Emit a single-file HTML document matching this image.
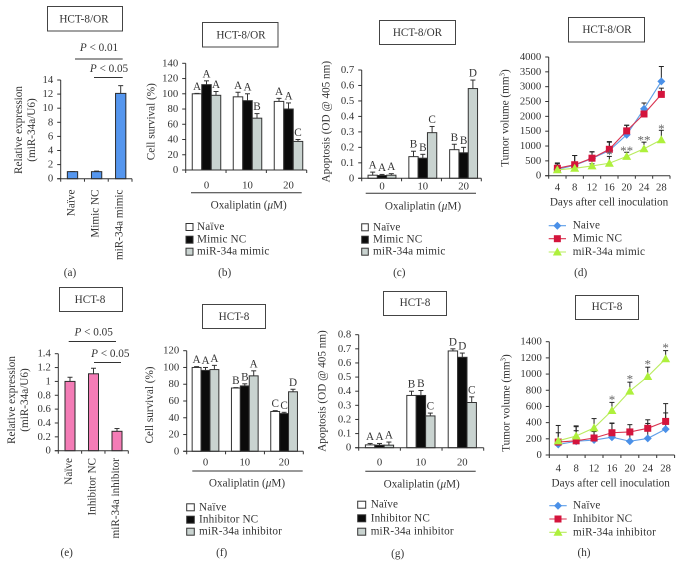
<!DOCTYPE html>
<html lang="en">
<head>
<meta charset="utf-8">
<title>miR-34a oxaliplatin figure</title>
<style>
html,body{margin:0;padding:0;background:#fff;width:682px;height:576px;overflow:hidden}
#figure{display:block;filter:blur(0.35px)}
#figure text{font-family:"Liberation Serif","DejaVu Serif",serif;font-size:11.2px;fill:#333}
#figure .box{fill:#fff;stroke:#444;stroke-width:1}
#figure .rule{stroke:#333;stroke-width:1}
#figure text.hd{font-size:11.2px}
#figure text.tk{font-size:10.7px}
#figure text.st{font-size:13px;fill:#666}
</style>
</head>
<body>
<svg id="figure" xmlns="http://www.w3.org/2000/svg" width="682" height="576" viewBox="0 0 682 576">
  <g text-anchor="middle" dominant-baseline="central">
    <rect class="box" x="47.5" y="6.5" width="75" height="24.5"/>
    <text class="hd" x="84" y="19.5" dominant-baseline="central">HCT-8/OR</text>
    <rect class="box" x="202.5" y="22.5" width="75.5" height="24.5"/>
    <text class="hd" x="241" y="35.5" dominant-baseline="central">HCT-8/OR</text>
    <rect class="box" x="379.5" y="20.5" width="76" height="24"/>
    <text class="hd" x="417.5" y="33" dominant-baseline="central">HCT-8/OR</text>
    <rect class="box" x="568.5" y="17.5" width="76" height="24.5"/>
    <text class="hd" x="607" y="30" dominant-baseline="central">HCT-8/OR</text>
    <rect class="box" x="59.5" y="287.5" width="63" height="24"/>
    <text class="hd" x="90" y="300" dominant-baseline="central">HCT-8</text>
    <rect class="box" x="202.5" y="304.5" width="63" height="24"/>
    <text class="hd" x="234" y="317" dominant-baseline="central">HCT-8</text>
    <rect class="box" x="383.5" y="291.5" width="63" height="24"/>
    <text class="hd" x="415" y="303" dominant-baseline="central">HCT-8</text>
    <rect class="box" x="575.5" y="295.5" width="63" height="24"/>
    <text class="hd" x="607" y="307" dominant-baseline="central">HCT-8</text>
  </g>
  <g text-anchor="middle">
    <text x="70" y="273" dominant-baseline="central">(a)</text>
    <text x="224.7" y="273" dominant-baseline="central">(b)</text>
    <text x="399.3" y="273" dominant-baseline="central">(c)</text>
    <text x="580.7" y="273" dominant-baseline="central">(d)</text>
    <text x="66.7" y="553" dominant-baseline="central">(e)</text>
    <text x="221.7" y="553" dominant-baseline="central">(f)</text>
    <text x="397.7" y="554" dominant-baseline="central">(g)</text>
    <text x="584" y="553" dominant-baseline="central">(h)</text>
  </g>
  <g text-anchor="middle">
    <text x="99" y="48" dominant-baseline="central"><tspan font-style="italic">P</tspan> &lt; 0.01</text>
    <line class="rule" x1="75" y1="59" x2="122.7" y2="59"/>
    <text x="109" y="69" dominant-baseline="central"><tspan font-style="italic">P</tspan> &lt; 0.05</text>
    <line class="rule" x1="94" y1="77.5" x2="122.7" y2="77.5"/>
  </g>
  <g text-anchor="middle">
    <text x="93.7" y="332.3" dominant-baseline="central"><tspan font-style="italic">P</tspan> &lt; 0.05</text>
    <line class="rule" x1="68.7" y1="341.5" x2="116" y2="341.5"/>
    <text x="110.3" y="354" dominant-baseline="central"><tspan font-style="italic">P</tspan> &lt; 0.05</text>
    <line class="rule" x1="94" y1="362.5" x2="121" y2="362.5"/>
  </g>
  <g text-anchor="middle">
    <text transform="translate(19,130) rotate(-90)" dominant-baseline="central">Relative expression</text>
    <text transform="translate(32,130) rotate(-90)" dominant-baseline="central">(miR-34a/U6)</text>
    <text transform="translate(151.7,121.7) rotate(-90)" dominant-baseline="central">Cell survival (%)</text>
    <text transform="translate(326.7,121.7) rotate(-90)" dominant-baseline="central">Apoptosis (OD @ 405 nm)</text>
    <text transform="translate(505.7,118) rotate(-90)" dominant-baseline="central">Tumor volume (mm<tspan font-size="7" dy="-3">3</tspan><tspan dy="3">)</tspan></text>
    <text transform="translate(12,400) rotate(-90)" dominant-baseline="central">Relative expression</text>
    <text transform="translate(25,400) rotate(-90)" dominant-baseline="central">(miR-34a/U6)</text>
    <text transform="translate(150,405) rotate(-90)" dominant-baseline="central">Cell survival (%)</text>
    <text transform="translate(322.7,391) rotate(-90)" dominant-baseline="central">Apoptosis (OD @ 405 nm)</text>
    <text transform="translate(506.7,403) rotate(-90)" dominant-baseline="central">Tumor volume (mm<tspan font-size="7" dy="-3">3</tspan><tspan dy="3">)</tspan></text>
  </g>
  <g text-anchor="middle">
    <line class="rule" x1="191" y1="192.7" x2="301.7" y2="192.7" stroke="#555"/>
    <text x="248.7" y="205.7" dominant-baseline="central">Oxaliplatin (<tspan font-style="italic">μ</tspan>M)</text>
    <line class="rule" x1="365.7" y1="193.3" x2="476" y2="193.3"/>
    <text x="423" y="206.7" dominant-baseline="central">Oxaliplatin (<tspan font-style="italic">μ</tspan>M)</text>
    <text x="609" y="202.7" dominant-baseline="central">Days after cell inoculation</text>
    <line class="rule" x1="192.3" y1="471" x2="302.7" y2="471"/>
    <text x="247" y="483.7" dominant-baseline="central">Oxaliplatin (<tspan font-style="italic">μ</tspan>M)</text>
    <line class="rule" x1="365.3" y1="471.3" x2="475.7" y2="471.3"/>
    <text x="421.7" y="484.3" dominant-baseline="central">Oxaliplatin (<tspan font-style="italic">μ</tspan>M)</text>
    <text x="610.7" y="483.3" dominant-baseline="central">Days after cell inoculation</text>
  </g>
</svg>
<script>
// ---------- Panel a ----------
const aCategories = ['Naïve', 'Mimic NC', 'miR-34a mimic'];
const aValues = [1, 1, 12.1];
const aErrors = [0, 0.08, 1.1];
const aTicks = [0, 2, 4, 6, 8, 10, 12, 14];
// ---------- Panel e ----------
const eCategories = ['Naïve', 'Inhibitor NC', 'miR-34a inhibitor'];
const eValues = [1, 1.11, 0.28];
const eErrors = [0.06, 0.08, 0.04];
const eTicks = [0, 0.2, 0.4, 0.6, 0.8, 1, 1.2, 1.4];
// ---------- Panel b ----------
const doses = ['0', '10', '20'];
const bNames = ['Naïve', 'Mimic NC', 'miR-34a mimic'];
const bNaive = [100, 96, 90];
const bNC = [112, 91, 80];
const bTreated = [98, 68, 37.5];
const bNaiveErr = [0.5, 6, 4];
const bNCErr = [5, 9, 8];
const bTreatedErr = [5, 6, 2.5];
const bNaiveLetters = ['A', 'A', 'A'];
const bNCLetters = ['A', 'A', 'A'];
const bTreatedLetters = ['A', 'B', 'C'];
const bTicks = [0, 20, 40, 60, 80, 100, 120, 140];
// ---------- Panel c ----------
const cNaive = [0.02, 0.14, 0.185];
const cNC = [0.018, 0.13, 0.165];
const cTreated = [0.02, 0.295, 0.58];
const cNaiveErr = [0.02, 0.035, 0.035];
const cNCErr = [0.007, 0.025, 0.035];
const cTreatedErr = [0.01, 0.04, 0.055];
const cNaiveLetters = ['A', 'B', 'B'];
const cNCLetters = ['A', 'B', 'B'];
const cTreatedLetters = ['A', 'C', 'D'];
const cTicks = [0, 0.1, 0.2, 0.3, 0.4, 0.5, 0.6, 0.7];
// ---------- Panel f ----------
const fNames = ['Naïve', 'Inhibitor NC', 'miR-34a inhibitor'];
const fNaive = [100, 75.5, 47.5];
const fNC = [96.5, 78, 45];
const fTreated = [97.5, 90, 71];
const fNaiveErr = [1, 0.5, 1];
const fNCErr = [3.5, 2.5, 1.5];
const fTreatedErr = [5, 6, 3];
const fNaiveLetters = ['A', 'B', 'C'];
const fNCLetters = ['A', 'B', 'C'];
const fTreatedLetters = ['A', 'A', 'D'];
const fTicks = [0, 20, 40, 60, 80, 100, 120];
// ---------- Panel g ----------
const gNaive = [0.02, 0.37, 0.685];
const gNC = [0.018, 0.37, 0.64];
const gTreated = [0.018, 0.225, 0.32];
const gNaiveErr = [0.01, 0.03, 0.015];
const gNCErr = [0.012, 0.035, 0.03];
const gTreatedErr = [0.022, 0.02, 0.04];
const gNaiveLetters = ['A', 'B', 'D'];
const gNCLetters = ['A', 'B', 'D'];
const gTreatedLetters = ['A', 'C', 'C'];
const gTicks = [0, 0.1, 0.2, 0.3, 0.4, 0.5, 0.6, 0.7, 0.8];
// ---------- Panel d ----------
const days = [4, 8, 12, 16, 20, 24, 28];
const dNaive = [220, 350, 580, 850, 1380, 2250, 3180];
const dNC = [250, 370, 590, 890, 1510, 2080, 2740];
const dTreated = [200, 250, 330, 420, 650, 910, 1210];
const dNaiveErr = [210, 330, 220, 280, 320, 200, 500];
const dNCErr = [150, 310, 220, 260, 190, 120, 210];
const dTreatedErr = [80, 70, 70, 230, 140, 220, 320];
const dStars = ['', '', '', '*', '**', '**', '*'];
const dTicks = [0, 500, 1000, 1500, 2000, 2500, 3000, 3500, 4000];
const dNames = ['Naive', 'Mimic NC', 'miR-34a mimic'];
// ---------- Panel h ----------
const hNaive = [130, 170, 185, 220, 170, 205, 320];
const hNC = [160, 175, 210, 275, 285, 330, 415];
const hTreated = [175, 235, 335, 550, 790, 970, 1190];
const hNaiveErr = [145, 180, 105, 170, 120, 185, 200];
const hNCErr = [205, 125, 80, 120, 90, 105, 220];
const hTreatedErr = [15, 125, 115, 100, 110, 115, 100];
const hStars = ['', '', '', '*', '*', '*', '*'];
const hTicks = [0, 200, 400, 600, 800, 1000, 1200, 1400];
const hNames = ['Naïve', 'Inhibitor NC', 'miR-34a inhibitor'];

const SVGNS = 'http://www.w3.org/2000/svg';
const root = document.getElementById('figure');

function mk(tag, attrs, parent, txt) {
  const n = document.createElementNS(SVGNS, tag);
  for (const k in attrs) n.setAttribute(k, attrs[k]);
  if (txt !== undefined) n.textContent = txt;
  parent.appendChild(n);
  return n;
}
function yScale(ax, v) {
  const lo = ax.ticks[0], hi = ax.ticks[ax.ticks.length - 1];
  return ax.y0 - (v - lo) / (hi - lo) * (ax.y0 - ax.yTop);
}
function drawYAxis(parent, ax) {
  const spine = mk('line', {x1: ax.x, x2: ax.x, y1: ax.yTop, y2: ax.y0, stroke: '#333', 'stroke-width': 1}, parent);
  
  
  ax.ticks.forEach(function (t) {
    const y = yScale(ax, t);
    const tick = mk('line', {x1: ax.x - 3.5, x2: ax.x, y1: y, y2: y, stroke: '#333', 'stroke-width': 1}, parent);
    
    
    const label = mk('text', {class: 'tk', x: ax.x - 7.5, y: y, 'text-anchor': 'end', 'dominant-baseline': 'central'}, parent, String(t));
    
    
  });
}
function drawXAxis(parent, ax, bands) {
  const spine = mk('line', {x1: ax.x - 3.5, x2: ax.right, y1: ax.y0, y2: ax.y0, stroke: '#333', 'stroke-width': 1}, parent);
  
  
  const step = (ax.right - ax.x) / bands;
  for (let i = 0; i <= bands; i++) {
    const x = ax.x + i * step;
    const tick = mk('line', {x1: x, x2: x, y1: ax.y0, y2: ax.y0 + 3, stroke: '#333', 'stroke-width': 1}, parent);
    
    
  }
}
function drawError(parent, x, yBase, yTop, color) {
  const stem = mk('line', {x1: x, x2: x, y1: yBase, y2: yTop, stroke: color, 'stroke-width': 1}, parent);
  
  
  const cap = mk('line', {x1: x - 2.5, x2: x + 2.5, y1: yTop, y2: yTop, stroke: color, 'stroke-width': 1}, parent);
  
  
}
function singleBarChart(name, ax, fill, categories, values, errors) {
  const g = mk('g', {}, root);
  
  
  values.forEach(function (v, i) {
    const cx = ax.c0 + i * ax.cStep;
    const top = yScale(ax, v);
    drawError(g, cx, top, yScale(ax, v + errors[i]), '#333');
    const bar = mk('rect', {x: cx - ax.barW / 2, y: top, width: ax.barW, height: ax.y0 - top, fill: fill, stroke: '#2b2b2b', 'stroke-width': 1}, g);
    
    
    const label = mk('text', {transform: 'translate(' + (cx - 1) + ',' + ax.catTop + ') rotate(-90)', 'text-anchor': 'end', 'dominant-baseline': 'central'}, g, categories[i]);
    
    
  });
  drawYAxis(g, ax);
  drawXAxis(g, ax, values.length);
}
const barFills = ['#ffffff', '#0b0b0b', '#c9d3d0'];
function groupedBarChart(name, ax, groups, seriesList, errList, letterList) {
  const g = mk('g', {}, root);
  
  
  seriesList.forEach(function (series, s) {
    series.forEach(function (v, i) {
      const cx = ax.c0 + i * ax.cStep + (s - 1) * ax.barW;
      const top = yScale(ax, v);
      const errTop = yScale(ax, v + errList[s][i]);
      drawError(g, cx, top, errTop, '#333');
      const bar = mk('rect', {x: cx - ax.barW / 2, y: top, width: ax.barW, height: ax.y0 - top, fill: barFills[s], stroke: '#333', 'stroke-width': 1}, g);
      
      
      const letter = mk('text', {x: cx, y: errTop - 6.5, 'text-anchor': 'middle', 'dominant-baseline': 'central'}, g, letterList[s][i]);
      
      
    });
  });
  drawYAxis(g, ax);
  drawXAxis(g, ax, groups.length);
  groups.forEach(function (d, i) {
    const label = mk('text', {class: 'tk', x: ax.c0 + i * ax.cStep, y: ax.labelY, 'text-anchor': 'middle', 'dominant-baseline': 'central'}, g, d);
    
    
  });
}
function barLegend(name, x, ys, textX, names, boxW) {
  const g = mk('g', {}, root);
  
  
  names.forEach(function (label, i) {
    const swatch = mk('rect', {x: x, y: ys[i] - 3.5, width: boxW, height: 7, fill: barFills[i], stroke: '#333', 'stroke-width': 1}, g);
    
    
    const t = mk('text', {x: textX, y: ys[i], 'dominant-baseline': 'central', 'letter-spacing': '0.15'}, g, label);
    
    
  });
}
const lineColors = ['#5f9fe8', '#d9324f', '#b9ec5e'];
const markerColors = ['#4a90e8', '#d4143c', '#aef03c'];
function drawMarker(parent, kind, x, y) {
  let m;
  if (kind === 0) {
    m = mk('polygon', {points: [x, y - 4, x + 4, y, x, y + 4, x - 4, y].join(' '), fill: markerColors[0]}, parent);
    
  } else if (kind === 1) {
    m = mk('rect', {x: x - 3.5, y: y - 3.5, width: 7, height: 7, fill: markerColors[1]}, parent);
    
  } else {
    m = mk('polygon', {points: [x, y - 4.5, x + 4.5, y + 3.5, x - 4.5, y + 3.5].join(' '), fill: markerColors[2]}, parent);
    
  }
  
}
function lineChart(name, ax, cats, seriesList, errList, stars, starOffset) {
  const g = mk('g', {}, root);
  
  
  const step = (ax.right - ax.x) / cats.length;
  const xAt = function (i) { return ax.x + step * (i + 0.5); };
  drawYAxis(g, ax);
  drawXAxis(g, ax, cats.length);
  cats.forEach(function (d, i) {
    const label = mk('text', {class: 'tk', x: xAt(i), y: ax.labelY, 'text-anchor': 'middle', 'dominant-baseline': 'central'}, g, String(d));
    
    
  });
  seriesList.forEach(function (series, s) {
    series.forEach(function (v, i) {
      drawError(g, xAt(i), yScale(ax, v), yScale(ax, v + errList[s][i]), '#222');
    });
  });
  seriesList.forEach(function (series, s) {
    const pts = series.map(function (v, i) { return xAt(i) + ',' + yScale(ax, v); }).join(' ');
    const line = mk('polyline', {points: pts, fill: 'none', stroke: lineColors[s], 'stroke-width': 1.1}, g);
    
    
    series.forEach(function (v, i) { drawMarker(g, s, xAt(i), yScale(ax, v)); });
  });
  const tr = seriesList[2], trErr = errList[2];
  stars.forEach(function (st, i) {
    if (!st) return;
    const t = mk('text', {class: 'st', x: xAt(i), y: yScale(ax, tr[i] + trErr[i]) + starOffset, 'text-anchor': 'middle'}, g, st);
    
    
  });
}
function lineLegend(name, x1, x2, ys, textX, names) {
  const g = mk('g', {}, root);
  
  
  names.forEach(function (label, i) {
    const l = mk('line', {x1: x1, x2: x2, y1: ys[i], y2: ys[i], stroke: lineColors[i], 'stroke-width': 1.1}, g);
    
    
    drawMarker(g, i, (x1 + x2) / 2, ys[i]);
    const t = mk('text', {x: textX, y: ys[i], 'dominant-baseline': 'central', 'letter-spacing': '0.15'}, g, label);
    
    
  });
}

singleBarChart('chart-a', {x: 60.7, right: 132, y0: 178.7, yTop: 80, ticks: aTicks, c0: 72.5, cStep: 24.1, barW: 10.3, catTop: 189.5}, '#5596ee', aCategories, aValues, aErrors);
singleBarChart('chart-e', {x: 58.3, right: 128.3, y0: 450.7, yTop: 353.7, ticks: eTicks, c0: 70, cStep: 23.5, barW: 10, catTop: 458}, '#f47cb6', eCategories, eValues, eErrors);

groupedBarChart('chart-b', {x: 185.7, right: 306.7, y0: 170, yTop: 63.3, ticks: bTicks, c0: 206.5, cStep: 41, barW: 9.5, labelY: 185.7}, doses, [bNaive, bNC, bTreated], [bNaiveErr, bNCErr, bTreatedErr], [bNaiveLetters, bNCLetters, bTreatedLetters]);
barLegend('legend-b', 186, [227, 239.7, 251.7], 197, bNames, 7);

groupedBarChart('chart-c', {x: 361.7, right: 481.3, y0: 178.3, yTop: 70, ticks: cTicks, c0: 382, cStep: 40.8, barW: 9.3, labelY: 186.7}, doses, [cNaive, cNC, cTreated], [cNaiveErr, cNCErr, cTreatedErr], [cNaiveLetters, cNCLetters, cTreatedLetters]);
barLegend('legend-c', 361.7, [227.3, 239.7, 251.7], 373, bNames, 6.6);

groupedBarChart('chart-f', {x: 186.7, right: 303.3, y0: 451.3, yTop: 350.7, ticks: fTicks, c0: 205.5, cStep: 39.3, barW: 8.9, labelY: 462.7}, doses, [fNaive, fNC, fTreated], [fNaiveErr, fNCErr, fTreatedErr], [fNaiveLetters, fNCLetters, fTreatedLetters]);
barLegend('legend-f', 186.7, [507.3, 519.7, 531.7], 199, fNames, 7.6);

groupedBarChart('chart-g', {x: 358.7, right: 483.7, y0: 447.7, yTop: 334.7, ticks: gTicks, c0: 379.5, cStep: 41.4, barW: 9.4, labelY: 462.3}, doses, [gNaive, gNC, gTreated], [gNaiveErr, gNCErr, gTreatedErr], [gNaiveLetters, gNCLetters, gTreatedLetters]);
barLegend('legend-g', 357.7, [504.7, 518.3, 531.7], 370.7, fNames, 8);

lineChart('chart-d', {x: 548.7, right: 670, y0: 175.7, yTop: 57, ticks: dTicks, labelY: 187.3}, days, [dNaive, dNC, dTreated], [dNaiveErr, dNCErr, dTreatedErr], dStars, 2.5);
lineLegend('legend-d', 548.7, 566, [225.7, 238.7, 252], 572.7, dNames);

lineChart('chart-h', {x: 549.3, right: 674.6, y0: 455, yTop: 341.7, ticks: hTicks, labelY: 468.3}, days, [hNaive, hNC, hTreated], [hNaiveErr, hNCErr, hTreatedErr], hStars, 1.5);
lineLegend('legend-h', 549.3, 566.7, [505.7, 519, 532.3], 573, hNames);
</script>
</body>
</html>
